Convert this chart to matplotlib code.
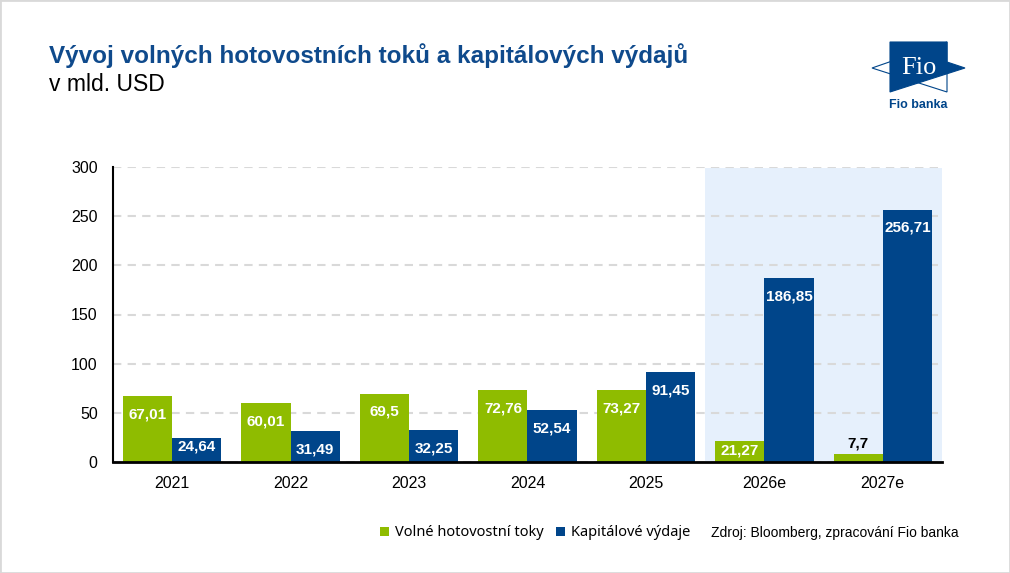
"""Bar chart: free cash flow vs capex (Fio banka style)."""

import matplotlib.pyplot as plt
import numpy as np
from matplotlib.patches import Polygon, Rectangle

plt.rcParams["font.family"] = ["Liberation Sans", "DejaVu Sans"]

YEARS = ["2021", "2022", "2023", "2024", "2025", "2026e", "2027e"]
FCF = [67.01, 60.01, 69.5, 72.76, 73.27, 21.27, 7.7]
CAPEX = [24.64, 31.49, 32.25, 52.54, 91.45, 186.85, 256.71]
FCF_LABELS = ["67,01", "60,01", "69,5", "72,76", "73,27", "21,27", "7,7"]
CAPEX_LABELS = ["24,64", "31,49", "32,25", "52,54", "91,45", "186,85", "256,71"]
SERIES_NAMES = ["Volné hotovostní toky", "Kapitálové výdaje"]
Y_TICKS = [0, 50, 100, 150, 200, 250, 300]
FORECAST_FROM = 5  # index of first estimated year

GREEN = "#8fbc00"
BLUE = "#00458a"
TITLE_BLUE = "#0f4a8c"
SHADE = "#e6f0fc"

W, H = 1010, 573


def px(x, y):
    """Figure pixel (from top-left) -> figure fraction."""
    return x / W, 1 - y / H


def bar_label(ax, x, v, text):
    if v > 30:
        off, col = -13, "white"
    elif v > 15:
        off, col = -6.5, "white"
    else:
        off, col = 8, "black"
    ax.annotate(text, (x, v), xytext=(0, off), textcoords="offset points",
                ha="center", va="center", color=col, fontsize=11, fontweight="bold")


def draw_logo(fig):
    t1 = [px(890, 42), px(947, 42), px(947, 62), px(965, 68), px(890, 92)]
    fig.patches.append(Polygon(t1, closed=True, transform=fig.transFigure,
                               facecolor=BLUE, edgecolor=BLUE, lw=0.8))
    t2 = [px(947, 42), px(947, 92), px(872, 68)]
    fig.patches.append(Polygon(t2, closed=True, transform=fig.transFigure,
                               facecolor="none", edgecolor=BLUE, lw=0.8))
    fx, fy = px(919, 68)
    fig.text(fx, fy, "Fio", color="white", fontsize=19, family="Liberation Serif",
             ha="center", va="center")
    bx, by = px(918, 105)
    fig.text(bx, by, "Fio banka", color=BLUE, fontsize=9, fontweight="bold",
             ha="center", va="center")


def main():
    fig = plt.figure(figsize=(W / 100, H / 100), dpi=100)
    ax = fig.add_axes([113 / W, 1 - 462 / H, (942 - 113) / W, (462 - 167) / H])

    x = np.arange(len(YEARS))
    width = 0.415

    ax.axvspan(FORECAST_FROM - 0.5, len(YEARS) - 0.5, ymin=0, ymax=0.996,
               color=SHADE, zorder=0, lw=0)
    ax.bar(x - width / 2, FCF, width, color=GREEN, label=SERIES_NAMES[0], zorder=2)
    ax.bar(x + width / 2, CAPEX, width, color=BLUE, label=SERIES_NAMES[1], zorder=2)

    for xi, v, t in zip(x - width / 2, FCF, FCF_LABELS):
        bar_label(ax, xi, v, t)
    for xi, v, t in zip(x + width / 2, CAPEX, CAPEX_LABELS):
        bar_label(ax, xi, v, t)

    ax.set_xlim(-0.5, len(YEARS) - 0.5)
    ax.set_ylim(0, 300)
    ax.set_yticks(Y_TICKS)
    ax.set_xticks(x)
    ax.set_xticklabels(YEARS)
    ax.tick_params(axis="both", length=0, labelsize=11.5)
    ax.tick_params(axis="y", pad=11)
    ax.tick_params(axis="x", pad=10)
    ax.yaxis.grid(True, color="#d9d9d9", linestyle=(0, (4, 3)), linewidth=1.5, zorder=1)
    ax.set_axisbelow(True)
    for s in ("top", "right"):
        ax.spines[s].set_visible(False)
    ax.spines["left"].set_linewidth(1.5)
    ax.spines["bottom"].set_linewidth(2)
    ax.spines["left"].set_zorder(3)
    ax.spines["bottom"].set_zorder(3)

    tx, ty = px(49, 63)
    fig.text(tx, ty, "Vývoj volných hotovostních toků a kapitálových výdajů",
             color=TITLE_BLUE, fontsize=17.5, fontweight="bold", ha="left", va="baseline")
    sx, sy = px(49, 91)
    fig.text(sx, sy, "v mld. USD", color="black", fontsize=16.5, ha="left", va="baseline")

    draw_logo(fig)

    lx, ly = px(380, 533)
    fig.legend(loc="center left", bbox_to_anchor=(lx, ly), ncol=2, frameon=False,
               prop={"family": "Noto Sans", "size": 10.5}, handlelength=0.6,
               handleheight=0.6, handletextpad=0.4, columnspacing=0.9,
               borderaxespad=0, borderpad=0)
    zx, zy = px(711, 533)
    fig.text(zx, zy, "Zdroj: Bloomberg, zpracování Fio banka", fontsize=10,
             ha="left", va="center")

    fig.patches.append(Rectangle((0, 0), 1, 1, transform=fig.transFigure,
                                 facecolor="none", edgecolor="#d9d9d9", lw=2))

    fig.savefig("out.png", dpi=100)
    plt.close(fig)


if __name__ == "__main__":
    main()
